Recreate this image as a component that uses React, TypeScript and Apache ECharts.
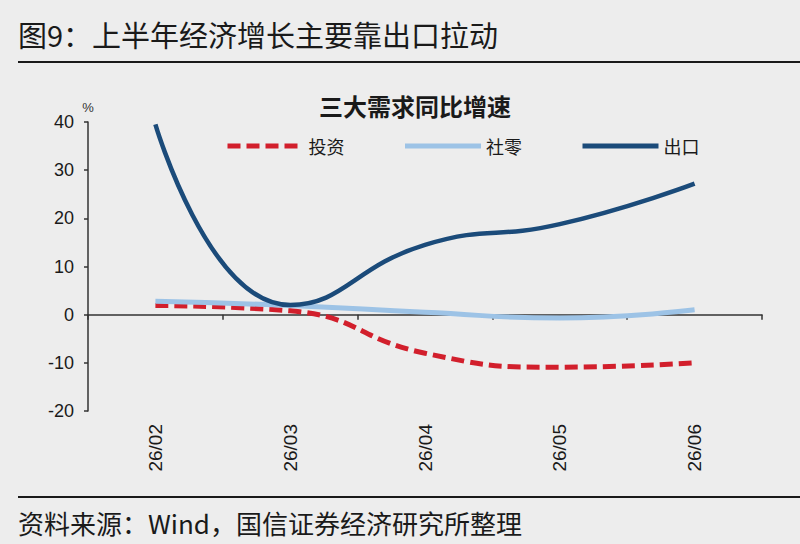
import React, { useEffect, useRef } from "react";
import * as echarts from "echarts";

const categories = ["26/02", "26/03", "26/04", "26/05", "26/06"];
const investment = [1.9, 0.8, -8.0, -10.9, -10.0];
const retail = [2.8, 1.9, 0.5, -0.7, 1.0];
const exportsData = [39.5, 2.0, 14.5, 18.8, 27.2];
const seriesNames = ["投资", "社零", "出口"];
const pageTitle = "图9：上半年经济增长主要靠出口拉动";
const chartTitle = "三大需求同比增速";
const sourceText = "资料来源：Wind，国信证券经济研究所整理";

const CJK = "'Noto Sans CJK SC', 'Noto Sans', sans-serif";
const LATIN = "'Liberation Sans', Arial, sans-serif";

export default function App() {
  const ref = useRef<HTMLDivElement>(null);
  useEffect(() => {
    document.body.style.margin = "0";
    document.body.style.background = "#EDEDED";
    const chart = echarts.init(ref.current!, null, { renderer: "svg" });
    chart.setOption({
      animation: false,
      backgroundColor: "#EDEDED",
      title: {
        text: chartTitle,
        left: 410,
        top: 88,
        textAlign: "center",
        textStyle: { fontFamily: CJK, fontSize: 24, fontWeight: "bold", color: "#1a1a1a" },
      },
      legend: {
        left: 220,
        top: 132,
        itemWidth: 76,
        itemHeight: 14,
        itemGap: 58,
        data: seriesNames,
        itemStyle: { opacity: 0 },
        lineStyle: { width: 5 },
        textStyle: { fontFamily: CJK, fontSize: 18, color: "#1a1a1a" },
      },
      grid: { left: 88, right: 38, top: 122, bottom: 133, containLabel: false },
      xAxis: [
        {
          type: "category",
          data: categories,
          boundaryGap: true,
          axisLine: { onZero: true, lineStyle: { color: "#333", width: 1.5 } },
          axisTick: { show: true, length: 5, lineStyle: { color: "#333", width: 1.5 } },
          axisLabel: { show: false },
          splitLine: { show: false },
        },
        {
          type: "category",
          data: categories,
          boundaryGap: true,
          position: "bottom",
          axisLine: { show: false, onZero: false },
          axisTick: { show: false },
          axisLabel: {
            rotate: 90,
            margin: 13,
            fontFamily: LATIN,
            fontSize: 19,
            color: "#1a1a1a",
          },
          splitLine: { show: false },
        },
      ],
      yAxis: {
        type: "value",
        min: -20,
        max: 40,
        interval: 10,
        name: "%",
        nameLocation: "end",
        nameGap: 8,
        nameTextStyle: { fontFamily: LATIN, fontSize: 13, color: "#333" },
        axisLine: { show: true, lineStyle: { color: "#333", width: 1.5 } },
        axisTick: { show: true, length: 4, lineStyle: { color: "#333", width: 1.5 } },
        axisLabel: { margin: 14, fontFamily: LATIN, fontSize: 18, color: "#1a1a1a" },
        splitLine: { show: false },
      },
      series: [
        {
          name: seriesNames[0],
          type: "line",
          data: investment,
          smooth: true,
          symbol: "none",
          xAxisIndex: 0,
          lineStyle: { color: "#D21F2C", width: 5, type: [13, 6] },
          itemStyle: { color: "#D21F2C" },
        },
        {
          name: seriesNames[1],
          type: "line",
          data: retail,
          smooth: true,
          symbol: "none",
          xAxisIndex: 0,
          lineStyle: { color: "#9DC3E6", width: 5 },
          itemStyle: { color: "#9DC3E6" },
        },
        {
          name: seriesNames[2],
          type: "line",
          data: exportsData,
          smooth: true,
          symbol: "none",
          xAxisIndex: 0,
          lineStyle: { color: "#1B4B7A", width: 4.5 },
          itemStyle: { color: "#1B4B7A" },
        },
      ],
      graphic: [
        {
          type: "text",
          left: 18,
          top: 19,
          style: { text: pageTitle, fontFamily: CJK, fontSize: 29, fill: "#1a1a1a" },
        },
        {
          type: "line",
          shape: { x1: 18, y1: 62, x2: 800, y2: 62 },
          style: { stroke: "#1a1a1a", lineWidth: 2 },
        },
        {
          type: "line",
          shape: { x1: 18, y1: 497, x2: 800, y2: 497 },
          style: { stroke: "#1a1a1a", lineWidth: 2 },
        },
        {
          type: "text",
          left: 18,
          top: 509,
          style: { text: sourceText, fontFamily: CJK, fontSize: 26, fill: "#1a1a1a" },
        },
      ],
    });
    return () => chart.dispose();
  }, []);
  return (
    <div
      ref={ref}
      style={{ position: "absolute", left: 0, top: 0, width: 800, height: 544 }}
    />
  );
}
